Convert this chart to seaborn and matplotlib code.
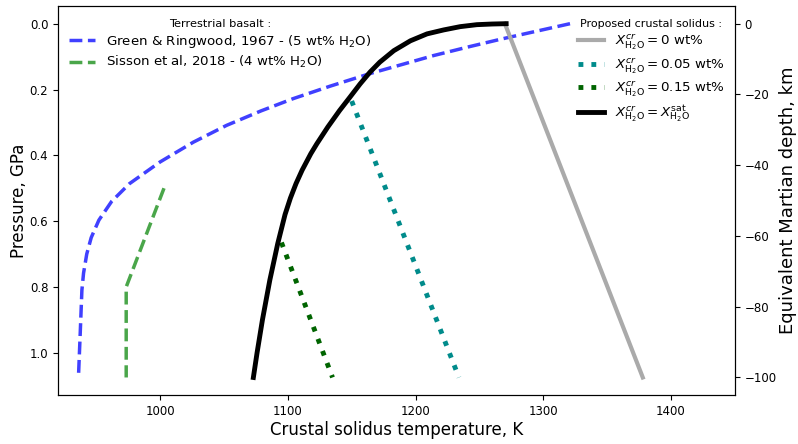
import numpy as np
import pandas as pd
import matplotlib
matplotlib.use("Agg")
import matplotlib.pyplot as plt
import seaborn as sns

# ---- data ----
gr_T = [1321, 1298, 1268, 1242, 1214, 1164, 1133, 1104, 1079, 1052, 1026, 1000,
        976, 962, 952, 946, 942.5, 940, 938.7, 937.4, 936]
gr_P = [0.0, 0.02, 0.046, 0.07, 0.097, 0.152, 0.19, 0.228, 0.265, 0.309, 0.36, 0.42,
        0.486, 0.54, 0.597, 0.65, 0.70, 0.758, 0.81, 0.94, 1.075]

sis_T = [1003, 973.4, 973.4]
sis_P = [0.50, 0.80, 1.075]

sat_T = [1271, 1260, 1248, 1235, 1222, 1209, 1196, 1183, 1172, 1164.4, 1156.6, 1148.7,
         1140.5, 1131.3, 1122.7, 1118.0, 1111.2, 1106.4, 1102.0, 1097.8, 1092.1,
         1085.9, 1080.1, 1075.9, 1073]
sat_P = [0.0, 0.001, 0.003, 0.009, 0.019, 0.031, 0.052, 0.082, 0.117, 0.147, 0.183, 0.223,
         0.264, 0.314, 0.365, 0.395, 0.445, 0.486, 0.53, 0.58, 0.668,
         0.779, 0.90, 1.0, 1.075]

dry_T = [1270, 1378]
dry_P = [0.0, 1.075]

w005_T = [1150, 1234]
w005_P = [0.235, 1.075]

w015_T = [1095, 1135]
w015_P = [0.665, 1.075]

P_AT_100KM = 1.075  # GPa corresponding to 100 km Martian depth
x_lim = (920, 1450)

fig = plt.figure(figsize=(7.98, 4.44), dpi=100)
ax = fig.add_axes([0.0727, 0.110, 0.848, 0.8765])

def draw(T, P, **kw):
    df = pd.DataFrame({"T": T, "P": P})
    sns.lineplot(data=df, x="T", y="P", sort=False, estimator=None, ax=ax, **kw)

draw(gr_T, gr_P, color="#4040ff", lw=2.5, ls="--", label="Green & Ringwood, 1967 - (5 wt% H$_2$O)")
draw(sis_T, sis_P, color="#4aa64a", lw=2.5, ls="--", label="Sisson et al, 2018 - (4 wt% H$_2$O)")
draw(dry_T, dry_P, color="#aaaaaa", lw=3, ls="-", label=r"$X^{cr}_{\mathrm{H_2O}} = 0$ wt%")
draw(w005_T, w005_P, color="#008b8b", lw=3.5, ls=":", label=r"$X^{cr}_{\mathrm{H_2O}} = 0.05$ wt%")
draw(w015_T, w015_P, color="#006400", lw=3.5, ls=":", label=r"$X^{cr}_{\mathrm{H_2O}} = 0.15$ wt%")
draw(sat_T, sat_P, color="black", lw=3.5, ls="-", label=r"$X^{cr}_{\mathrm{H_2O}} = X^{\mathrm{sat}}_{\mathrm{H_2O}}$")

ax.set_xlim(*x_lim)
ax.margins(y=0.05)
ax.invert_yaxis()
ax.set_xticks([1000, 1100, 1200, 1300, 1400])
ax.tick_params(labelsize=8.5)
ax.set_xlabel("Crustal solidus temperature, K", fontsize=12, labelpad=2)
ax.set_ylabel("Pressure, GPa", fontsize=12, labelpad=1)

handles, labels = ax.get_legend_handles_labels()
leg1 = ax.legend(handles[:2], labels[:2], loc="upper left", frameon=False,
                 title="Terrestrial basalt :", title_fontsize=8.2, fontsize=9.6,
                 bbox_to_anchor=(-0.003, 1.0), borderaxespad=0.55, labelspacing=0.32)
ax.add_artist(leg1)
leg2 = ax.legend(handles[2:], labels[2:], loc="upper right", frameon=False,
                 title="Proposed crustal solidus :", title_fontsize=8.0, fontsize=9.6,
                 bbox_to_anchor=(1.004, 1.0), borderaxespad=0.55, labelspacing=0.3)

ax2 = ax.twinx()
y0, y1 = ax.get_ylim()
ax2.set_ylim(-y0 * 100 / P_AT_100KM, -y1 * 100 / P_AT_100KM)
ax2.set_yticks([0, -20, -40, -60, -80, -100])
ax2.tick_params(labelsize=8.5)
ax2.set_ylabel("Equivalent Martian depth, km", fontsize=13, labelpad=2)

fig.savefig("out.png", dpi=100)
